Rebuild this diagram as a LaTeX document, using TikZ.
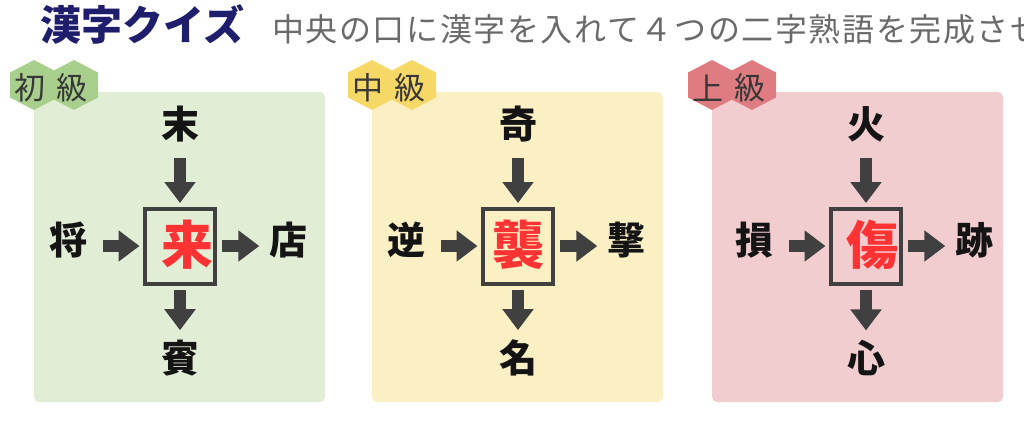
\documentclass[tikz,border=0pt]{standalone}
\usepackage{fontspec}
\usepackage{tikz}
\usepackage{color}
\usetikzlibrary{arrows.meta}
\newfontfamily\jpfont{Noto Sans CJK JP}
\definecolor{navy}{HTML}{1E1E6C}
\definecolor{subgray}{HTML}{6A6A6A}
\definecolor{arrowgray}{HTML}{404040}
\definecolor{quizred}{HTML}{FF3333}
\definecolor{greenbg}{HTML}{E2EDD6}
\definecolor{greenhex}{HTML}{A9CF8D}
\definecolor{yellowbg}{HTML}{FBF0C4}
\definecolor{yellowhex}{HTML}{F6D867}
\definecolor{pinkbg}{HTML}{F1CDD0}
\definecolor{pinkhex}{HTML}{DF7C81}
\tikzstyle{word} = [inner sep=0pt,text=black!92,font=\jpfont\bfseries\fontsize{38}{38}\selectfont]
\tikzstyle{level} = [inner sep=0pt,text=black!78,font=\jpfont\fontsize{31}{31}\selectfont]
\tikzstyle{answerbox} = [draw=arrowgray,line width=4pt,minimum width=70pt,minimum height=75pt,inner sep=0pt]
\tikzstyle{answer} = [inner sep=0pt,text=quizred,font=\jpfont\bfseries\fontsize{52}{52}\selectfont]
\tikzstyle{bigarrow} = [draw=arrowgray,line width=12pt,-{Triangle[width=30pt,length=21pt]}]
\tikzstyle{inarrow} = [bigarrow,shorten <=16pt,shorten >=3.5pt]
\tikzstyle{outarrow} = [bigarrow,shorten <=4.5pt,shorten >=9.5pt]

\begin{document}
\begin{tikzpicture}[x=1pt,y=-1pt]
\useasboundingbox (0,0) rectangle (1024,421);

% title line
\node[anchor=west,inner sep=0pt,text=navy,font=\jpfont\bfseries\fontsize{41}{41}\selectfont] (title) at (40,24) {漢字クイズ};
\node[anchor=west,inner sep=0pt,text=subgray,font=\jpfont\fontsize{32}{32}\selectfont\addfontfeature{LetterSpace=5}] (subtitle) at (272,29) {中央の口に漢字を入れて４つの二字熟語を完成させ};

% three quiz panels
\foreach \i/\px/\cx/\dx/\lvl/\bg/\hx/\t/\l/\c/\r/\b in
{1/34/180/7/初/greenbg/greenhex/末/将/来/店/賓,
2/372/518/0/中/yellowbg/yellowhex/奇/逆/襲/撃/名,
3/712/866/6/上/pinkbg/pinkhex/火/損/傷/跡/心}
{
\fill[\bg,rounded corners=5pt] (\px,92) rectangle (\px+291,402);
\fill[\hx] (\px,60) -- ++(24,12.5) -- ++(0,25) -- ++(-24,12.5) -- ++(-24,-12.5) -- ++(0,-25) -- cycle;
\fill[\hx] (\px+40,60) -- ++(24,12.5) -- ++(0,25) -- ++(-24,12.5) -- ++(-24,-12.5) -- ++(0,-25) -- cycle;
\node[level] (lv\i) at (\px-4,88) {\lvl};
\node[level] (kyu\i) at (\px+38,88) {級};

\node[answerbox] (c\i) at (\cx,246) {};
\node[answer] (a\i) at (\cx+\dx,245) {\c};
\node[word] (t\i) at (\cx,124) {\t};
\node[word] (l\i) at (\cx-112,240) {\l};
\node[word] (r\i) at (\cx+108,240) {\r};
\node[word] (b\i) at (\cx,358) {\b};

\draw[inarrow] (t\i) -- (c\i);
\draw[inarrow] (l\i.east |- c\i.west) -- (c\i.west);
\draw[outarrow] (c\i.east) -- (r\i.west |- c\i.east);
\draw[outarrow] (c\i) -- (b\i);
}
\end{tikzpicture}
\end{document}
